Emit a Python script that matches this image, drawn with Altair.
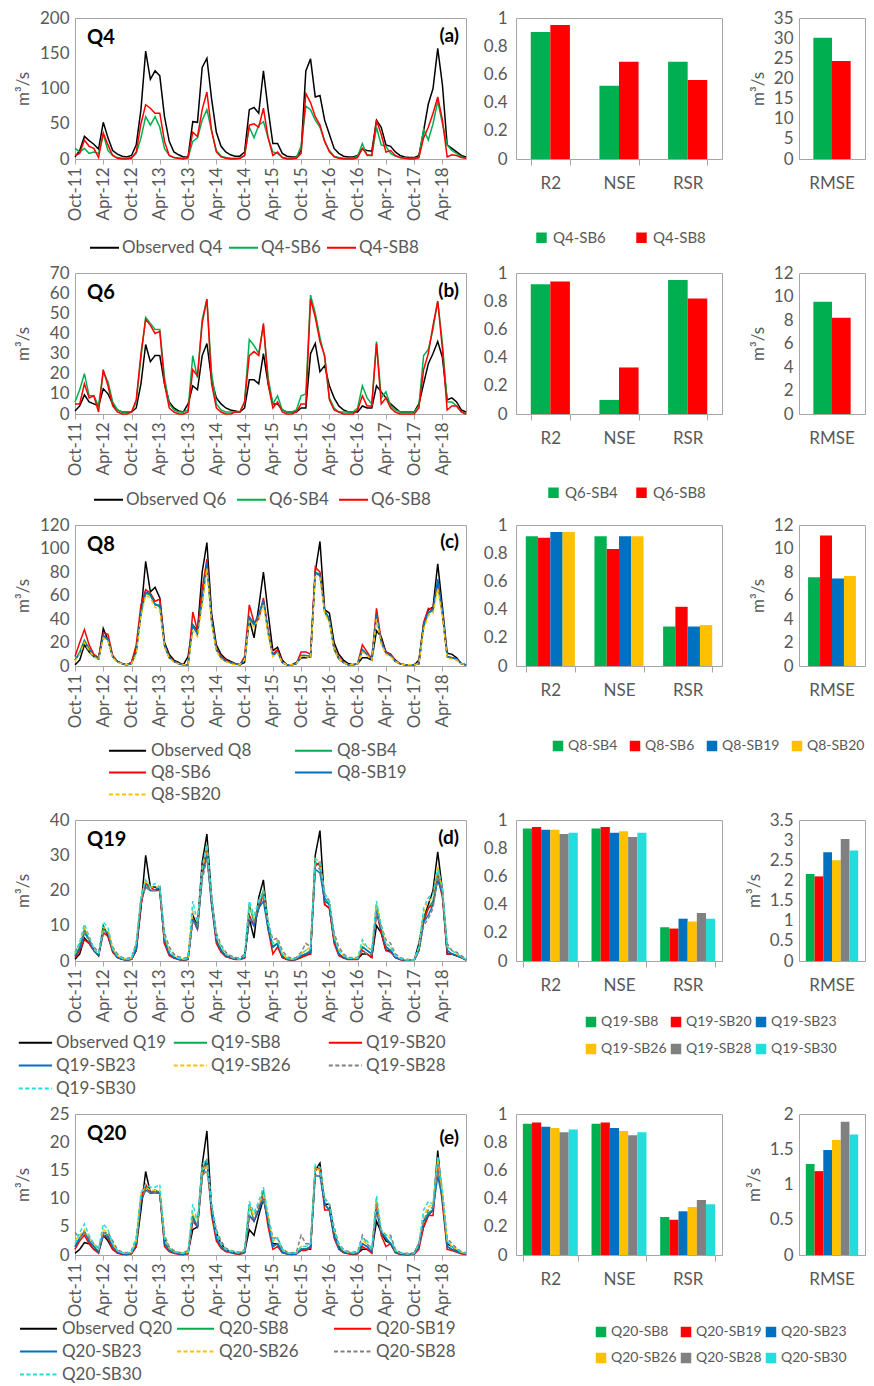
import json
import altair as alt
import pandas as pd

# ---------------------------------------------------------------- data
TICK_LABELS = ["Oct-11", "Apr-12", "Oct-12", "Apr-13", "Oct-13", "Apr-14", "Oct-14",
               "Apr-15", "Oct-15", "Apr-16", "Oct-16", "Apr-17", "Oct-17", "Apr-18"]
TICK_POS = [0, 6, 12, 18, 24, 30, 36, 42, 48, 54, 60, 66, 72, 78]
METRICS = ["R2", "NSE", "RSR"]

# ---- (a) Q4, monthly Oct-2011 .. Sep-2018
Q4_OBS = [3, 12, 32, 26, 21, 14, 52, 30, 12, 7, 4, 3,
          5, 20, 70, 153, 113, 125, 118, 60, 25, 10, 6, 3,
          3, 53, 52, 130, 143, 85, 38, 18, 10, 6, 4, 4,
          10, 70, 73, 65, 125, 70, 22, 22, 8, 4, 3, 3,
          12, 125, 142, 88, 90, 55, 35, 15, 8, 4, 3, 3,
          5, 14, 12, 11, 55, 45, 20, 18, 10, 5, 3, 2,
          2, 5, 40, 78, 100, 157, 105, 20, 15, 10, 5, 3]
Q4_SB6 = [15, 10, 15, 8, 10, 8, 35, 12, 5, 2, 1, 1,
          2, 8, 30, 60, 48, 60, 45, 15, 5, 2, 1, 1,
          2, 25, 30, 55, 70, 40, 12, 4, 2, 1, 1, 1,
          5, 45, 30, 48, 53, 30, 10, 8, 2, 1, 1, 2,
          18, 75, 70, 55, 45, 25, 12, 4, 2, 1, 1, 1,
          4, 22, 5, 5, 45, 20, 18, 8, 4, 2, 1, 1,
          1, 2, 42, 27, 50, 82, 50, 20, 12, 8, 3, 1]
Q4_SB8 = [5, 8, 27, 18, 15, 2, 37, 20, 5, 1, 0, 0,
          1, 10, 50, 77, 72, 65, 65, 25, 5, 2, 1, 0,
          2, 38, 32, 70, 95, 40, 10, 3, 1, 0, 0, 1,
          5, 48, 50, 45, 72, 30, 5, 10, 2, 0, 0, 1,
          8, 93, 80, 60, 48, 25, 10, 3, 1, 0, 0, 0,
          2, 15, 6, 5, 55, 35, 10, 12, 5, 2, 1, 0,
          0, 2, 30, 45, 65, 88, 55, 3, 6, 5, 2, 1]

# ---- (b) Q6
Q6_OBS = [1.5, 4, 9.5, 6, 5, 4, 12.5, 10, 5, 2, 1, 1,
          1, 3, 15, 34.5, 26, 29, 29, 15, 6, 3, 1.5, 1,
          5, 14, 12, 29, 35, 17, 8, 5, 3, 2, 1.5, 1,
          3, 17, 17, 15, 30, 15, 5, 5, 2, 1, 1, 1,
          3, 3, 30, 35, 21, 24, 14, 8, 4, 2, 1, 1,
          1, 4, 3, 3, 14, 11, 8, 5, 3, 1, 1, 1,
          1, 5, 15, 25, 30, 36, 28, 7, 8, 6, 2, 1]
Q6_SB4 = [6, 12, 20, 9, 9, 4, 21, 16, 6, 2, 1, 1,
          1, 6, 28, 48, 45, 42, 42, 18, 5, 2, 1, 1,
          2, 29, 18, 47, 57, 20, 5, 2, 1, 1, 1, 1,
          6, 37, 34, 30, 44, 18, 5, 9, 2, 1, 1, 2,
          9, 10, 59, 50, 38, 28, 8, 3, 1, 1, 1, 1,
          3, 14, 8, 5, 36, 8, 11, 4, 2, 1, 1, 1,
          1, 4, 29, 32, 42, 56, 35, 6, 6, 4, 1, 0]
Q6_SB8 = [5, 5, 15, 8, 9, 1, 22, 14, 4, 1, 0, 0,
          1, 7, 30, 47, 44, 40, 41, 15, 3, 1, 0, 0,
          1, 22, 19, 45, 57, 15, 3, 1, 0, 0, 1, 1,
          6, 29, 31, 29, 45, 15, 3, 6, 1, 0, 0, 1,
          5, 5, 57, 48, 36, 29, 7, 2, 1, 0, 0, 0,
          2, 9, 4, 4, 35, 5, 8, 3, 1, 0, 0, 0,
          0, 3, 22, 30, 44, 56, 32, 2, 4, 4, 1, 0]

# ---- (c) Q8
Q8_OBS = [1, 5, 18, 12, 8, 6, 32, 22, 8, 4, 2, 1,
          3, 15, 45, 89, 63, 67, 58, 20, 10, 5, 3, 1,
          8, 35, 30, 80, 105, 45, 18, 10, 6, 4, 2, 1,
          3, 40, 24, 50, 80, 45, 13, 16, 5, 1, 1, 3,
          7, 7, 8, 80, 106, 48, 45, 20, 10, 5, 2, 1,
          2, 7, 7, 5, 30, 25, 12, 10, 5, 2, 1, 1,
          1, 5, 35, 48, 50, 87, 50, 11, 10, 7, 2, 1]
Q8_SB4 = [5, 12, 22, 15, 9, 6, 25, 22, 8, 4, 2, 1,
          2, 12, 45, 62, 60, 53, 50, 17, 7, 4, 2, 1,
          1, 35, 28, 55, 85, 38, 14, 7, 4, 3, 2, 1,
          6, 40, 35, 42, 55, 28, 9, 12, 3, 1, 1, 2,
          9, 9, 8, 80, 78, 46, 38, 14, 6, 3, 1, 1,
          2, 13, 10, 6, 42, 20, 11, 9, 4, 2, 1, 1,
          1, 2, 33, 45, 47, 70, 44, 8, 7, 6, 2, 1]
Q8_SB6 = [8, 20, 31, 18, 10, 7, 28, 27, 9, 4, 2, 1,
          3, 18, 52, 65, 62, 55, 57, 18, 8, 4, 2, 1,
          1, 46, 30, 65, 91, 40, 15, 8, 5, 3, 2, 1,
          8, 52, 37, 40, 58, 30, 10, 14, 3, 1, 1, 2,
          12, 12, 10, 84, 80, 47, 40, 15, 7, 3, 1, 1,
          2, 18, 12, 6, 49, 22, 12, 10, 4, 2, 1, 1,
          1, 2, 37, 49, 48, 72, 45, 8, 7, 6, 2, 1]
Q8_SB19 = [5, 11, 21, 14, 9, 6, 26, 23, 8, 4, 2, 1,
           2, 12, 46, 63, 61, 52, 52, 18, 7, 4, 2, 1,
           1, 34, 27, 57, 88, 39, 14, 7, 4, 3, 2, 1,
           6, 42, 36, 44, 56, 29, 9, 12, 3, 1, 1, 2,
           9, 9, 8, 79, 77, 47, 40, 15, 6, 3, 1, 1,
           2, 14, 10, 6, 44, 21, 11, 9, 4, 2, 1, 1,
           1, 2, 35, 46, 48, 74, 46, 8, 7, 6, 2, 1]
Q8_SB20 = [4, 10, 20, 13, 8, 5, 24, 21, 7, 3, 2, 1,
           2, 10, 42, 60, 58, 50, 48, 16, 7, 3, 2, 1,
           1, 30, 25, 52, 83, 36, 13, 6, 4, 2, 1, 1,
           5, 38, 33, 40, 52, 27, 8, 11, 3, 1, 1, 2,
           8, 8, 7, 76, 75, 45, 37, 14, 6, 3, 1, 1,
           2, 12, 9, 5, 40, 19, 10, 8, 4, 2, 1, 1,
           1, 2, 31, 43, 45, 66, 42, 7, 6, 5, 2, 1]

# ---- (d) Q19
Q19_OBS = [0.5, 2, 6.5, 5, 3, 1.5, 10, 7, 3, 1, 0.5, 0.3,
           0.5, 3, 15, 30, 21, 21, 20, 5, 2, 1, 0.5, 0.3,
           1, 13, 10, 28, 36, 18, 6, 3, 1.5, 1, 0.5, 0.5,
           1, 12, 6.5, 18, 23, 10, 4, 5, 1, 0.5, 0.3, 0.5,
           1, 2, 2, 30, 37, 16, 15, 6, 2, 1, 0.5, 0.5,
           0.5, 2, 2, 1, 10, 8, 3, 3, 1, 0.5, 0.2, 0.2,
           0.2, 5, 12, 16, 20, 31, 20, 2, 2, 1.5, 1, 0.3]
Q19_SB8 = [1.5, 4, 9, 6, 3, 1.5, 9, 8, 3, 1, 0.5, 0.3,
           0.5, 4, 17, 22, 20, 20, 21, 6, 2, 1, 0.5, 0.3,
           0.5, 12, 10, 24, 33, 17, 6, 3, 1.5, 1, 0.5, 0.5,
           1, 16, 11, 15, 20, 10, 4, 5, 1.5, 0.5, 0.3, 0.5,
           1.5, 2, 3, 28, 27, 18, 16, 6, 2, 1, 0.5, 0.5,
           0.5, 4, 3, 2, 16, 9, 4, 3, 1, 0.5, 0.2, 0.2,
           0.2, 3, 12, 15, 17, 25, 19, 3, 2, 1.5, 1, 0.3]
Q19_SB20 = [1, 3, 6, 5, 3, 1.5, 8, 7, 2.5, 1, 0.5, 0.3,
            0.5, 3, 16, 22, 21, 20, 20, 5, 1.5, 0.8, 0.4, 0.2,
            0.4, 12, 9, 25, 31, 16, 5, 2.5, 1.2, 0.8, 0.4, 0.4,
            0.8, 13, 10, 15, 19, 9, 2, 4, 1, 0.4, 0.2, 0.4,
            1, 1.5, 2, 27, 28, 16, 15, 5, 1.5, 0.8, 0.4, 0.4,
            0.4, 3, 2, 1, 14, 8, 3, 2.5, 1, 0.4, 0.2, 0.2,
            0.2, 3, 11, 15, 16, 24, 18, 2, 2, 1.5, 1, 0.3]
Q19_SB23 = [1.5, 3.5, 8, 6, 3, 1.5, 8, 8, 3, 1, 0.5, 0.3,
            0.5, 3.5, 17, 21, 20, 20, 21, 6, 2, 1, 0.5, 0.3,
            0.5, 12, 9, 24, 30, 16, 6, 3, 1.5, 1, 0.5, 0.5,
            1, 12, 10, 15, 17, 9, 4, 5, 1.5, 0.5, 0.3, 0.5,
            1.5, 2, 2.5, 26, 25, 17, 16, 6, 2, 1, 0.5, 0.5,
            0.5, 4, 3, 2, 14, 9, 4, 3, 1, 0.5, 0.2, 0.2,
            0.2, 3, 11, 13, 16, 23, 19, 3, 2, 1.5, 1, 0.3]
Q19_SB26 = [2, 5, 9.5, 7, 3.5, 2, 9.5, 9, 3.5, 1.5, 0.8, 0.5,
            0.8, 5, 18, 23, 21, 21, 21, 7, 3, 1.5, 0.8, 0.5,
            0.8, 14, 11, 26, 32, 18, 7, 4, 2, 1.2, 0.8, 0.6,
            1.5, 16, 12, 17, 20, 11, 5, 6, 2, 0.8, 0.5, 0.8,
            2, 3, 4, 29, 28, 19, 17, 7, 3, 1.5, 0.8, 0.8,
            0.8, 5, 4, 3, 16, 10, 5, 4, 1.5, 0.8, 0.4, 0.3,
            0.3, 4, 14, 17, 18, 27, 20, 4, 3, 2, 1.2, 0.5]
Q19_SB28 = [2.5, 5, 8, 6, 4, 2.5, 8, 8, 4, 2, 1, 0.8,
            1, 5, 17, 21, 20, 20, 20, 8, 4, 2, 1.2, 0.8,
            1, 11, 10, 23, 29, 18, 8, 4.5, 2.5, 1.5, 1, 0.8,
            2, 12, 11, 16, 19, 11, 6, 6.5, 3, 1.2, 0.8, 1,
            2.5, 5, 4, 27, 26, 19, 17, 8, 4, 2, 1, 1,
            1, 3, 2, 2, 13, 10, 6, 5, 2, 1, 0.5, 0.4,
            0.4, 3, 10, 12, 15, 24, 20, 5, 3, 2.5, 1.5, 0.6]
Q19_SB30 = [2, 5.5, 10.5, 7, 3.5, 2, 11, 9.5, 3.5, 1.5, 0.8, 0.5,
            0.8, 5, 18, 23, 21, 22, 21, 7, 3, 1.5, 0.8, 0.5,
            0.8, 17, 11, 27, 33, 18, 7, 4, 2, 1.2, 0.8, 0.6,
            1.5, 17, 13, 17, 20, 11, 5, 5.5, 2, 0.8, 0.5, 0.8,
            2, 3, 3.5, 29, 28, 19, 17, 7, 3, 1.5, 0.8, 0.8,
            0.8, 6, 4, 3, 17, 10, 5, 4, 1.5, 0.8, 0.4, 0.3,
            0.3, 4, 15, 18, 19, 26, 21, 4, 3, 2, 1.2, 0.5]

# ---- (e) Q20
Q20_OBS = [0.3, 1, 2.2, 2, 1, 0.8, 3.5, 2.5, 1, 0.5, 0.2, 0.1,
           0.3, 1.5, 8, 14.8, 11, 11.5, 11, 3, 1, 0.5, 0.3, 0.2,
           0.5, 4.5, 5, 16, 22, 8, 4, 2, 1, 0.6, 0.4, 0.3,
           0.5, 4.5, 3.5, 7, 10, 6, 2, 2, 0.5, 0.3, 0.2, 0.3,
           1, 1, 1, 15, 16.3, 9, 9, 4, 1.5, 0.5, 0.3, 0.2,
           0.3, 1, 1, 0.5, 6, 4, 2.5, 2, 0.5, 0.2, 0.1, 0.1,
           0.3, 2, 5, 7, 8, 18.5, 10, 2, 1.5, 0.8, 0.3, 0.2]
Q20_SB8 = [1.5, 3, 4, 2.5, 1.5, 0.5, 4, 3.5, 1.5, 0.5, 0.2, 0.1,
           0.3, 2, 10, 12, 11, 11.5, 11, 2, 0.8, 0.4, 0.2, 0.1,
           0.3, 7, 5, 15, 17, 8, 3, 1.5, 0.8, 0.5, 0.3, 0.2,
           0.5, 9, 6, 8, 11.5, 6, 1.5, 2, 0.5, 0.2, 0.1, 0.2,
           1, 1, 1.5, 15.5, 15, 9, 8, 3.5, 1.2, 0.5, 0.3, 0.2,
           0.3, 2, 1.5, 0.5, 9.5, 4, 3, 2, 0.5, 0.2, 0.1, 0.1,
           0.2, 1.5, 6, 7.5, 8, 16, 10, 1.5, 1, 0.6, 0.3, 0.2]
Q20_SB19 = [1, 2.5, 3.5, 2, 1, 0.3, 3.5, 3, 1, 0.3, 0.1, 0.1,
            0.2, 1.5, 10, 12.5, 11, 11, 11, 1.5, 0.6, 0.3, 0.1, 0.1,
            0.2, 6, 5, 14, 17, 7, 2.5, 1.2, 0.6, 0.4, 0.2, 0.1,
            0.4, 7, 6, 8, 10.5, 5, 1, 1.5, 0.4, 0.2, 0.1, 0.2,
            0.8, 0.8, 1.2, 15, 15.5, 8, 8, 3, 1, 0.4, 0.2, 0.1,
            0.2, 1.5, 1, 0.3, 9, 3.5, 1.5, 2, 0.4, 0.1, 0.1, 0.1,
            0.1, 1, 5, 7, 7, 16.5, 9, 1, 0.8, 0.5, 0.2, 0.1]
Q20_SB23 = [1.5, 3, 4.2, 2.5, 1.5, 0.5, 3.5, 3.3, 1.5, 0.5, 0.2, 0.1,
            0.3, 2, 9.5, 11.5, 11, 11, 11, 2, 0.8, 0.4, 0.2, 0.1,
            0.3, 6.5, 5, 14, 16.5, 8, 3, 1.5, 0.8, 0.5, 0.3, 0.2,
            0.5, 7, 6, 8, 10, 6, 1.5, 2, 0.5, 0.2, 0.1, 0.2,
            1, 1, 1.5, 14, 14, 9, 8, 3.5, 1.2, 0.5, 0.3, 0.2,
            0.3, 2, 1.5, 0.5, 8, 4, 3, 2, 0.5, 0.2, 0.1, 0.1,
            0.2, 1.5, 6, 7, 8, 14, 10, 1.5, 1, 0.6, 0.3, 0.2]
Q20_SB26 = [2.5, 3.5, 4.5, 3, 2, 1, 4.5, 4, 2, 0.8, 0.4, 0.3,
            0.5, 2.5, 11, 12, 11.5, 11.5, 11.5, 3, 1.2, 0.6, 0.4, 0.3,
            0.5, 7.5, 6, 15, 16, 9, 4, 2, 1, 0.7, 0.5, 0.4,
            0.8, 8.5, 7, 9, 10.5, 7, 2.5, 3, 1, 0.4, 0.3, 0.4,
            1.5, 1.5, 2, 15.5, 15, 10, 9, 4.5, 1.8, 0.8, 0.5, 0.4,
            0.5, 2.5, 2, 1, 10, 4.5, 3.5, 3, 0.8, 0.4, 0.2, 0.2,
            0.3, 2, 7, 8.5, 9, 17, 11, 2.5, 1.5, 1, 0.5, 0.3]
Q20_SB28 = [4, 3, 4, 3, 2, 1.2, 4, 4, 2.5, 1, 0.5, 0.4,
            0.8, 3, 10, 11.5, 11, 11, 11, 3.5, 1.5, 0.8, 0.5, 0.4,
            0.8, 6, 5.5, 14, 15, 9, 4.5, 2.5, 1.2, 0.8, 0.6, 0.5,
            1, 7, 6.5, 9, 10, 7, 3, 3, 1.2, 0.5, 0.4, 0.5,
            3.5, 2, 2, 14, 14.5, 10, 9, 5, 2, 1, 0.6, 0.5,
            0.6, 3.5, 2, 1, 8, 4.5, 3.5, 3.5, 1, 0.5, 0.3, 0.3,
            0.4, 2, 6, 8, 8.5, 15, 11, 3, 2, 1.2, 0.6, 0.4]
Q20_SB30 = [2, 4, 5.5, 3.5, 2, 1, 5.5, 4.5, 2, 0.8, 0.4, 0.3,
            0.5, 3, 11, 12.5, 12, 12, 12.5, 3, 1.2, 0.6, 0.4, 0.3,
            0.5, 9, 6, 16, 17, 9, 4, 2, 1, 0.7, 0.5, 0.4,
            0.8, 9.5, 7.5, 9.5, 12, 7, 2.5, 3, 1, 0.4, 0.3, 0.4,
            1.5, 1.5, 2, 16, 15.5, 10, 9, 4.5, 1.8, 0.8, 0.5, 0.4,
            0.5, 3, 2.5, 1, 10.5, 4.5, 3.5, 3, 0.8, 0.4, 0.2, 0.2,
            0.3, 2, 8, 9.5, 9, 17.5, 11.5, 2.5, 1.5, 1, 0.5, 0.3]

# ---- performance statistics (bars)
A_SERIES = ["Q4-SB6", "Q4-SB8"]
A_R2 = [0.90, 0.95]
A_NSE = [0.52, 0.69]
A_RSR = [0.69, 0.56]
A_RMSE = [30.1, 24.3]

B_SERIES = ["Q6-SB4", "Q6-SB8"]
B_R2 = [0.92, 0.94]
B_NSE = [0.10, 0.33]
B_RSR = [0.95, 0.82]
B_RMSE = [9.55, 8.2]

C_SERIES = ["Q8-SB4", "Q8-SB6", "Q8-SB19", "Q8-SB20"]
C_R2 = [0.92, 0.91, 0.95, 0.95]
C_NSE = [0.92, 0.83, 0.92, 0.92]
C_RSR = [0.28, 0.42, 0.28, 0.29]
C_RMSE = [7.55, 11.1, 7.45, 7.65]

D_SERIES = ["Q19-SB8", "Q19-SB20", "Q19-SB23", "Q19-SB26", "Q19-SB28", "Q19-SB30"]
D_R2 = [0.94, 0.95, 0.93, 0.93, 0.90, 0.91]
D_NSE = [0.94, 0.95, 0.91, 0.92, 0.88, 0.91]
D_RSR = [0.24, 0.23, 0.30, 0.28, 0.34, 0.30]
D_RMSE = [2.16, 2.10, 2.70, 2.50, 3.03, 2.74]

E_SERIES = ["Q20-SB8", "Q20-SB19", "Q20-SB23", "Q20-SB26", "Q20-SB28", "Q20-SB30"]
E_R2 = [0.93, 0.94, 0.91, 0.90, 0.87, 0.89]
E_NSE = [0.93, 0.94, 0.90, 0.88, 0.85, 0.87]
E_RSR = [0.27, 0.25, 0.31, 0.34, 0.39, 0.36]
E_RMSE = [1.29, 1.19, 1.49, 1.63, 1.89, 1.71]

# ---------------------------------------------------------------- style
FONT = "Lato"
TXT = "#595959"
FRAME = "#A6A6A6"
BLACK, GREEN, RED, BLUE = "#000000", "#00B050", "#FF0000", "#0070C0"
GOLD, GREY, CYAN = "#FFC000", "#808080", "#24DCDC"
SOLID, DASH = [1, 0], [4, 2.5]
SYM_LONG = "M-3,0H0.9"     # legend line sample reaching left of the entry box
SYM_MID = "M-2.6,0H0.9"

LINE_W, BAR_W, RMSE_W, PLOT_H = 391, 206, 66, 141
LABEL_EXPR = json.dumps(TICK_LABELS) + "[round(datum.value / 6)]"
INDEP = dict(color="independent", strokeDash="independent", xOffset="independent")
INDEP_L = dict(color="independent", strokeDash="independent")


def line_panel(names, arrays, colors, dashes, ymax, ystep, qlab, plab, plab_y, leg):
    rows = []
    for n, arr in zip(names, arrays):
        assert len(arr) == 84, n
        for i, v in enumerate(arr):
            rows.append({"month": i, "value": v, "series": n})
    df = pd.DataFrame(rows)
    legend = alt.Legend(title=None, orient="none", legendX=leg["x"], legendY=leg["y"],
                        direction="horizontal", columns=leg["cols"],
                        columnPadding=leg["cp"], rowPadding=leg["rp"],
                        gridAlign=leg["ga"], symbolType=leg["sym"], symbolSize=leg["ss"],
                        symbolStrokeWidth=2, labelFont=FONT, labelFontSize=17,
                        labelColor=TXT, labelOffset=leg["lo"], padding=0, labelLimit=300)
    enc = dict(
        x=alt.X("month:Q", scale=alt.Scale(domain=[0, 83], nice=False, zero=False),
                axis=alt.Axis(values=TICK_POS, labelExpr=LABEL_EXPR, labelAngle=-90,
                              title=None, grid=False, ticks=True, tickSize=5,
                              tickColor=FRAME, domainColor=FRAME, labelPadding=3,
                              labelOverlap=False, labelFlush=False)),
        y=alt.Y("value:Q", scale=alt.Scale(domain=[0, ymax], nice=False),
                axis=alt.Axis(values=list(range(0, ymax + 1, ystep)), title="m³/s",
                              grid=False, ticks=False, domain=False, labelPadding=6,
                              minExtent=38, maxExtent=38, titlePadding=5)),
        color=alt.Color("series:N", scale=alt.Scale(domain=names, range=colors),
                        legend=legend),
    )
    if any(d != SOLID for d in dashes):
        enc["strokeDash"] = alt.StrokeDash("series:N",
                                           scale=alt.Scale(domain=names, range=dashes),
                                           legend=legend)
    lines = alt.Chart(df).mark_line(strokeWidth=1.5).encode(**enc)
    qtext = alt.Chart(pd.DataFrame({"t": [qlab]})).mark_text(
        font=FONT, fontSize=20, fontWeight="bold", color="black", align="left",
        baseline="middle").encode(text="t:N", x=alt.value(12), y=alt.value(20))
    ptext = alt.Chart(pd.DataFrame({"t": [plab]})).mark_text(
        font=FONT, fontSize=19, fontWeight="bold", color="black", align="right",
        baseline="middle").encode(text="t:N", x=alt.value(LINE_W - 7), y=alt.value(plab_y))
    return alt.layer(lines, qtext, ptext).properties(width=LINE_W, height=PLOT_H)


def bar_panels(series, colors, r2, nse, rsr, rmse, rmse_max, rmse_step, pad_in, rmse_po, leg):
    rows = []
    for i, s in enumerate(series):
        for m, v in zip(METRICS, [r2[i], nse[i], rsr[i]]):
            rows.append({"metric": m, "series": s, "value": v})
    df = pd.DataFrame(rows)
    cscale = alt.Scale(domain=series, range=colors)
    oscale = alt.Scale(domain=series, paddingInner=0, paddingOuter=0)
    legend = alt.Legend(title=None, orient="none", legendX=leg["x"], legendY=leg["y"],
                        direction="horizontal", columns=leg["cols"],
                        columnPadding=leg["cp"], rowPadding=leg["rp"],
                        gridAlign=leg["ga"], symbolType="square", symbolSize=110,
                        symbolStrokeWidth=0, labelFont=FONT, labelFontSize=leg["fs"],
                        labelColor=TXT, labelOffset=leg["lo"], padding=0, labelLimit=300)
    metric = alt.Chart(df).mark_bar().encode(
        x=alt.X("metric:N", sort=METRICS,
                scale=alt.Scale(domain=METRICS, paddingInner=pad_in, paddingOuter=pad_in / 2),
                axis=alt.Axis(title=None, labelAngle=0, tickBand="extent", ticks=True,
                              tickSize=6, tickColor=FRAME, domainColor=FRAME,
                              labelPadding=10)),
        xOffset=alt.XOffset("series:N", scale=oscale),
        y=alt.Y("value:Q", scale=alt.Scale(domain=[0, 1], nice=False),
                axis=alt.Axis(title=None, values=[0, 0.2, 0.4, 0.6, 0.8, 1], format="~g",
                              grid=False, ticks=False, domain=False, labelPadding=9)),
        color=alt.Color("series:N", scale=cscale, legend=legend),
    ).properties(width=BAR_W, height=PLOT_H)

    rdf = pd.DataFrame({"metric": ["RMSE"] * len(series), "series": series, "value": rmse})
    nt = int(round(rmse_max / rmse_step))
    rm = alt.Chart(rdf).mark_bar().encode(
        x=alt.X("metric:N", scale=alt.Scale(paddingInner=0, paddingOuter=rmse_po),
                axis=alt.Axis(title=None, labelAngle=0, ticks=False, domainColor=FRAME,
                              labelPadding=16)),
        xOffset=alt.XOffset("series:N", scale=oscale),
        y=alt.Y("value:Q", scale=alt.Scale(domain=[0, rmse_max], nice=False),
                axis=alt.Axis(title="m³/s",
                              values=[round(k * rmse_step, 3) for k in range(nt + 1)],
                              format="~g", grid=False, ticks=False, domain=False,
                              labelPadding=6, titlePadding=6)),
        color=alt.Color("series:N", scale=cscale, legend=None),
    ).properties(width=RMSE_W, height=PLOT_H)
    return metric, rm


def row(line, metric, rm):
    right = alt.hconcat(metric, rm, spacing=77, bounds="flush").resolve_scale(
        **INDEP).resolve_legend(**INDEP_L)
    return alt.hconcat(line, right, spacing=50, bounds="flush").resolve_scale(
        **INDEP).resolve_legend(**INDEP_L)


# (a)
la = line_panel(["Observed Q4", "Q4-SB6", "Q4-SB8"], [Q4_OBS, Q4_SB6, Q4_SB8],
                [BLACK, GREEN, RED], [SOLID] * 3, 200, 50, "Q4", "(a)", 18,
                dict(x=14, y=214, cols=3, cp=2, rp=0, ga="each", sym="stroke", ss=841, lo=2))
ma, ra = bar_panels(A_SERIES, [GREEN, RED], A_R2, A_NSE, A_RSR, A_RMSE, 35, 5, 0.43, 0.385,
                    dict(x=18, y=212, cols=2, cp=28, rp=0, ga="each", fs=15, lo=4))
# (b)
lb = line_panel(["Observed Q6", "Q6-SB4", "Q6-SB8"], [Q6_OBS, Q6_SB4, Q6_SB8],
                [BLACK, GREEN, RED], [SOLID] * 3, 70, 10, "Q6", "(b)", 18,
                dict(x=18, y=211, cols=3, cp=6, rp=0, ga="each", sym="stroke", ss=841, lo=2))
mb, rb = bar_panels(B_SERIES, [GREEN, RED], B_R2, B_NSE, B_RSR, B_RMSE, 12, 2, 0.43, 0.385,
                    dict(x=30, y=212, cols=2, cp=16, rp=0, ga="each", fs=15, lo=4))
# (c)
lc = line_panel(["Observed Q8", "Q8-SB4", "Q8-SB6", "Q8-SB19", "Q8-SB20"],
                [Q8_OBS, Q8_SB4, Q8_SB6, Q8_SB19, Q8_SB20],
                [BLACK, GREEN, RED, BLUE, GOLD], [SOLID] * 4 + [DASH], 120, 20,
                "Q8", "(c)", 17,
                dict(x=52, y=215, cols=2, cp=39, rp=3, ga="all", sym=SYM_LONG, ss=361, lo=3))
mc, rc = bar_panels(C_SERIES, [GREEN, RED, BLUE, GOLD], C_R2, C_NSE, C_RSR, C_RMSE, 12, 2,
                    0.285, 0.19, dict(x=35, y=214, cols=4, cp=10, rp=0, ga="each", fs=14, lo=3))
# (d)
D_NAMES = ["Observed Q19"] + D_SERIES
ld = line_panel(D_NAMES, [Q19_OBS, Q19_SB8, Q19_SB20, Q19_SB23, Q19_SB26, Q19_SB28, Q19_SB30],
                [BLACK, GREEN, RED, BLUE, GOLD, GREY, CYAN],
                [SOLID] * 4 + [DASH] * 3, 40, 10, "Q19", "(d)", 18,
                dict(x=-42, y=212, cols=3, cp=2, rp=4, ga="all", sym=SYM_MID, ss=361, lo=2))
md, rd = bar_panels(D_SERIES, [GREEN, RED, BLUE, GOLD, GREY, CYAN], D_R2, D_NSE, D_RSR, D_RMSE,
                    3.5, 0.5, 0.2, 0.13,
                    dict(x=68, y=195, cols=3, cp=2, rp=13, ga="all", fs=14, lo=3))
# (e)
E_NAMES = ["Observed Q20"] + E_SERIES
le = line_panel(E_NAMES, [Q20_OBS, Q20_SB8, Q20_SB19, Q20_SB23, Q20_SB26, Q20_SB28, Q20_SB30],
                [BLACK, GREEN, RED, BLUE, GOLD, GREY, CYAN],
                [SOLID] * 4 + [DASH] * 3, 25, 5, "Q20", "(e)", 24,
                dict(x=-37, y=204, cols=3, cp=0, rp=4, ga="all", sym=SYM_LONG, ss=361, lo=3))
me, re_ = bar_panels(E_SERIES, [GREEN, RED, BLUE, GOLD, GREY, CYAN], E_R2, E_NSE, E_RSR, E_RMSE,
                     2, 0.5, 0.2, 0.13,
                     dict(x=78, y=211, cols=3, cp=2, rp=12, ga="all", fs=14, lo=3))

chart = alt.vconcat(row(la, ma, ra), row(lb, mb, rb), row(lc, mc, rc), row(ld, md, rd),
                    row(le, me, re_), spacing=6).resolve_scale(**INDEP).resolve_legend(
    **INDEP_L).properties(
    padding={"left": 5, "top": 0, "right": 0, "bottom": 0}
).configure_view(stroke=FRAME, strokeWidth=1).configure_axis(
    labelFont=FONT, labelFontSize=17, labelColor=TXT, titleFont=FONT, titleFontSize=17,
    titleColor=TXT, titleFontWeight="normal"
).configure_legend(labelFont=FONT, labelColor=TXT)

chart.save("out.html", embed_options={"renderer": "svg", "actions": False})
